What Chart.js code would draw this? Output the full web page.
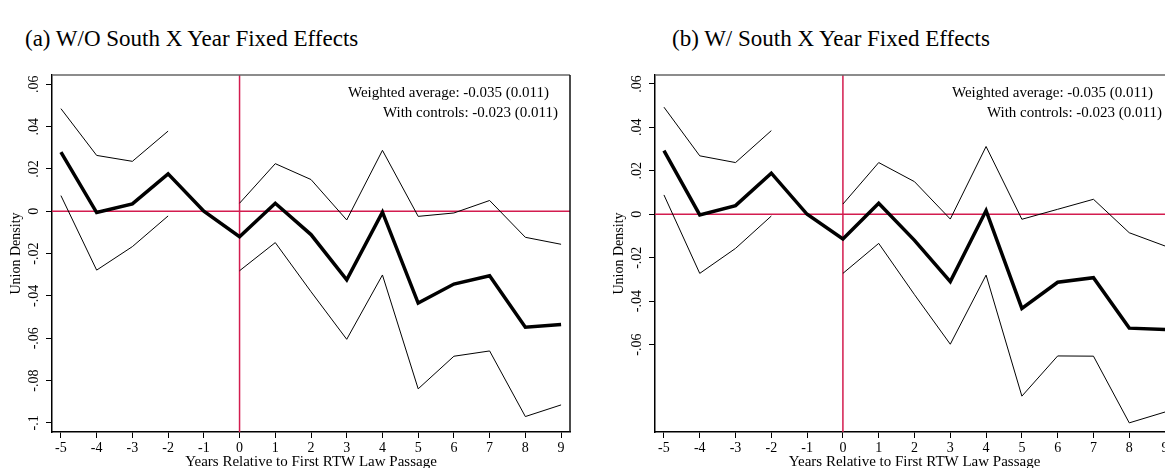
<!DOCTYPE html>
<html>
<head>
<meta charset="utf-8">
<script src="https://cdn.jsdelivr.net/npm/chart.js@4.4.1/dist/chart.umd.min.js"></script>
<style>
  html, body { margin: 0; padding: 0; background: #fff; }
  body { width: 1165px; height: 468px; overflow: hidden; position: relative; }
  .panel { position: absolute; top: 0; }
  .ptitle { position: absolute; top: 26px; font-family: "Liberation Serif", serif; font-size: 23px; color: #000; white-space: nowrap; }
</style>
</head>
<body>
<div class="ptitle" style="left:25px">(a) W/O South X Year Fixed Effects</div>
<div class="ptitle" style="left:672px">(b) W/ South X Year Fixed Effects</div>
<div class="panel" style="left:0px"><canvas id="chartA" width="590" height="468"></canvas></div>
<div class="panel" style="left:600px"><canvas id="chartB" width="590" height="468"></canvas></div>
<script>
// años relativos a la primera ley RTW
const years = [-5, -4, -3, -2, -1, 0, 1, 2, 3, 4, 5, 6, 7, 8, 9];

// (a) sin efectos fijos Sur x año
const estA = [0.028, -0.0006, 0.0035, 0.0177, 0, -0.012, 0.0038, -0.011, -0.0324, -0.0004, -0.0434, -0.0344, -0.0305, -0.0548, -0.0535];
const upA = [0.0485, 0.0264, 0.0236, 0.0379, null, 0.0038, 0.0225, 0.015, -0.0041, 0.0288, -0.0024, -0.0008, 0.0051, -0.0123, -0.0156];
const loA = [0.0074, -0.0278, -0.0167, -0.0022, null, -0.0281, -0.0148, -0.038, -0.0605, -0.0301, -0.0839, -0.0685, -0.066, -0.097, -0.0915];

// (b) con efectos fijos Sur x año
const estB = [0.0293, -0.0003, 0.004, 0.0189, 0, -0.0114, 0.0051, -0.012, -0.031, 0.0017, -0.0433, -0.0313, -0.0292, -0.0524, -0.053];
const upB = [0.0493, 0.0269, 0.0238, 0.0385, null, 0.0047, 0.0238, 0.015, -0.0022, 0.0312, -0.0023, 0.0023, 0.0069, -0.0085, -0.0146];
const loB = [0.0089, -0.0272, -0.0157, -0.0008, null, -0.0272, -0.0134, -0.037, -0.0598, -0.028, -0.0837, -0.0652, -0.0653, -0.096, -0.091];

// ticks
const xTicks = years;
const yTicksA = [0.06, 0.04, 0.02, 0, -0.02, -0.04, -0.06, -0.08, -0.1];
const yLabelsA = ['.06', '.04', '.02', '0', '-.02', '-.04', '-.06', '-.08', '-.1'];
const yTicksB = [0.06, 0.04, 0.02, 0, -0.02, -0.04, -0.06];
const yLabelsB = ['.06', '.04', '.02', '0', '-.02', '-.04', '-.06'];

const notes = ['Weighted average: -0.035 (0.011)', 'With controls: -0.023 (0.011)'];
const xTitle = 'Years Relative to First RTW Law Passage';
const yTitle = 'Union Density';

const serif = '"Liberation Serif", "Times New Roman", serif';
const refColor = '#d31c4f';

function pts(xs, ys) {
    return xs.map((x, i) => ({ x: x, y: ys[i] }));
}

// lineas de referencia, marco, etiquetas rotadas y notas
const decoPlugin = {
    id: 'deco',
    beforeDatasetsDraw(chart) {
        const { ctx, chartArea: a, scales } = chart;
        const x0 = scales.x.getPixelForValue(0);
        const y0 = scales.y.getPixelForValue(0);
        ctx.save();
        ctx.strokeStyle = refColor;
        ctx.lineWidth = 1.5;
        ctx.beginPath();
        ctx.moveTo(a.left, y0); ctx.lineTo(a.right, y0);
        ctx.moveTo(x0, a.top); ctx.lineTo(x0, a.bottom);
        ctx.stroke();
        ctx.restore();
    },
    afterDraw(chart, args, opts) {
        const { ctx, chartArea: a, scales } = chart;
        ctx.save();
        // marco superior y derecho
        ctx.lineWidth = 1.5;
        ctx.strokeStyle = '#666';
        ctx.beginPath(); ctx.moveTo(a.left, a.top); ctx.lineTo(a.right, a.top); ctx.stroke();
        ctx.strokeStyle = '#111';
        ctx.beginPath(); ctx.moveTo(a.right, a.top); ctx.lineTo(a.right, a.bottom); ctx.stroke();

        ctx.fillStyle = '#000';
        ctx.font = '14px ' + serif;
        ctx.textAlign = 'center';
        ctx.textBaseline = 'middle';
        // etiquetas del eje Y rotadas
        opts.yTicks.forEach((v, i) => {
            const y = scales.y.getPixelForValue(v);
            ctx.save();
            ctx.translate(a.left - 18, y);
            ctx.rotate(-Math.PI / 2);
            ctx.fillText(opts.yLabels[i], 0, 0);
            ctx.restore();
        });
        // titulo eje Y
        ctx.save();
        ctx.translate(a.left - 36, (a.top + a.bottom) / 2);
        ctx.rotate(-Math.PI / 2);
        ctx.fillText(yTitle, 0, 0);
        ctx.restore();
        // titulo eje X
        ctx.font = '15px ' + serif;
        ctx.fillText(xTitle, (a.left + a.right) / 2, 462);
        // notas
        ctx.font = '15px ' + serif;
        ctx.textAlign = 'right';
        ctx.fillText(notes[0], a.right - 21, a.top + 18);
        ctx.fillText(notes[1], a.right - 12, a.top + 38);
        ctx.restore();
    }
};

function makeChart(id, est, up, lo, yMin, yMax, yTicks, yLabels, yWidth, padRight) {
    const ctx = document.getElementById(id).getContext('2d');
    const thin = { borderColor: '#000', borderWidth: 1, pointRadius: 0, spanGaps: false, tension: 0, fill: false };
    return new Chart(ctx, {
        type: 'line',
        data: {
            datasets: [
                Object.assign({ label: 'upper', data: pts(years, up) }, thin),
                Object.assign({ label: 'lower', data: pts(years, lo) }, thin),
                {
                    label: 'estimate',
                    data: pts(years, est),
                    borderColor: '#000',
                    borderWidth: 3.5,
                    pointRadius: 0,
                    tension: 0,
                    fill: false,
                    borderJoinStyle: 'miter'
                }
            ]
        },
        options: {
            responsive: false,
            animation: false,
            layout: { padding: { left: 0, top: 75, right: padRight, bottom: 0 } },
            plugins: {
                legend: { display: false },
                tooltip: { enabled: false },
                deco: { yTicks: yTicks, yLabels: yLabels }
            },
            scales: {
                x: {
                    type: 'linear',
                    min: -5.25,
                    max: 9.25,
                    afterBuildTicks: s => { s.ticks = xTicks.map(v => ({ value: v })); },
                    afterFit: s => { s.height = 36; },
                    grid: { display: true, drawOnChartArea: false, drawTicks: true, tickLength: 6, color: '#000', lineWidth: 1 },
                    border: { color: '#000', width: 1.5 },
                    ticks: {
                        font: { family: serif, size: 14 },
                        color: '#000',
                        padding: 2,
                        maxRotation: 0,
                        autoSkip: false,
                        callback: v => String(v)
                    }
                },
                y: {
                    type: 'linear',
                    min: yMin,
                    max: yMax,
                    afterBuildTicks: s => { s.ticks = yTicks.map(v => ({ value: v })); },
                    afterFit: s => { s.width = yWidth; },
                    grid: { display: true, drawOnChartArea: false, drawTicks: true, tickLength: 6, color: '#000', lineWidth: 1 },
                    border: { color: '#000', width: 1.5 },
                    ticks: { display: false }
                }
            }
        },
        plugins: [decoPlugin]
    });
}

makeChart('chartA', estA, upA, loA, -0.1043, 0.0644, yTicksA, yLabelsA, 52, 20);
makeChart('chartB', estB, upB, loB, -0.1002, 0.0641, yTicksB, yLabelsB, 55, 16);
</script>
</body>
</html>
